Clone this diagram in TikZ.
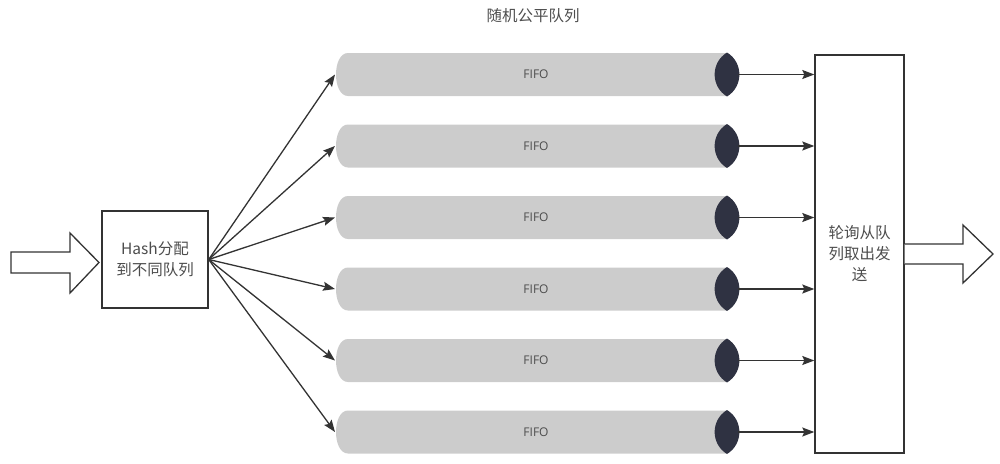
\documentclass[tikz,border=0pt]{standalone}
\usepackage{fontspec}
\setmainfont{Noto Sans CJK SC}
\newfontfamily\latinf{Open Sans}
\usetikzlibrary{arrows.meta}
\definecolor{linec}{HTML}{333333}
\definecolor{txtc}{HTML}{4D4D4D}
\definecolor{pipec}{HTML}{CCCCCC}
\definecolor{lensc}{HTML}{2F3242}
\tikzset{
  boxn/.style={draw=linec, line width=1.4pt, fill=white, inner sep=0pt, align=center, text=txtc, font=\fontsize{15.5}{21}\selectfont},
  conn/.style={draw=linec, line width=1.3pt, -{Stealth[length=12pt,width=9pt,inset=2pt]}},
  blockarr/.style={draw=linec, line width=1.3pt, fill=white},
  fifotxt/.style={text=txtc, font=\latinf\fontsize{12}{14}\selectfont, inner sep=0pt}
}
\begin{document}
\begin{tikzpicture}[x=1pt,y=-1pt]
\useasboundingbox (0,0) rectangle (1000,463);
\node[text=txtc, font=\fontsize{15.5}{18}\selectfont, inner sep=0pt] (title) at (533,16) {随机公平队列};
% input block arrow
\draw[blockarr] (11,252) -- (70,252) -- (70,233) -- (99,262.5) -- (70,293) -- (70,273) -- (11,273) -- cycle;
\node[boxn, minimum width=106pt, minimum height=97pt] (hash) at (155,259.5) {Hash分配\\到不同队列};
\node[boxn, minimum width=89pt, minimum height=398pt] (rr) at (859.5,254) {轮询从队\\列取出发\\送};
% output block arrow
\draw[blockarr] (rr.east |- 0,244) -- (963,244) -- (963,225) -- (993,254) -- (963,283) -- (963,264) -- (rr.east |- 0,264);
\foreach \i/\c in {1/74.5,2/146,3/217.5,4/289,5/360.5,6/432}{
  \fill[pipec] (348,\c-21.5) -- (727,\c-21.5) -- (727,\c+21.5) -- (348,\c+21.5)
     .. controls (332,\c+21.5) and (332,\c-21.5) .. cycle;
  \fill[lensc] (727,\c-22) .. controls (710.5,\c-12) and (710.5,\c+12) .. (727,\c+22)
     .. controls (743.5,\c+12) and (743.5,\c-12) .. cycle;
  \node[fifotxt] (fifo\i) at (536,\c) {FIFO};
  \coordinate (in\i) at (335,\c);
  \coordinate (out\i) at (738,\c);
  \draw[conn] (hash.east) -- (in\i);
  \draw[conn] (out\i) -- (rr.west |- out\i);
}
\end{tikzpicture}
\end{document}
